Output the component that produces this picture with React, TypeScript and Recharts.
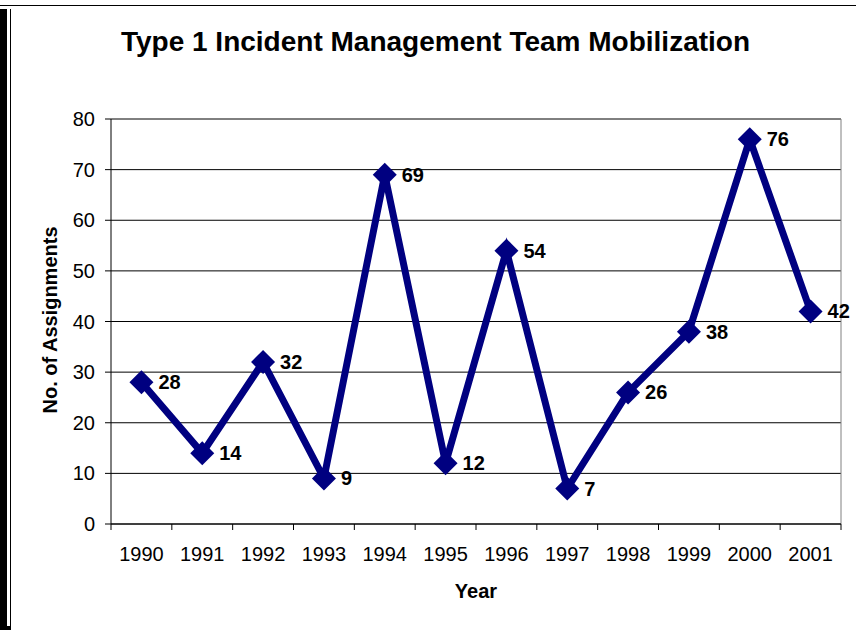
import React from 'react';
import {
  CartesianGrid,
  LabelList,
  Line,
  LineChart,
  XAxis,
  YAxis,
} from 'recharts';

// data
const years = ['1990', '1991', '1992', '1993', '1994', '1995', '1996', '1997', '1998', '1999', '2000', '2001'];
const assignments = [28, 14, 32, 9, 69, 12, 54, 7, 26, 38, 76, 42];
const yTicks = [0, 10, 20, 30, 40, 50, 60, 70, 80];

const chartData = years.map((year, i) => ({ year, value: assignments[i] }));

const FONT = '"Liberation Sans", Arial, sans-serif';
const W = 856;
const H = 632;
const xAxisHeight = 30;
const margin = { top: 119, right: 15, bottom: 108 - xAxisHeight, left: 0 };
const yAxisWidth = 111;
const halfBand = (W - margin.right - yAxisWidth) / years.length / 2;

const Diamond = (props: any) => {
  const { cx, cy } = props;
  if (cx == null || cy == null) return null;
  const r = 12;
  return (
    <polygon
      points={`${cx},${cy - r} ${cx + r},${cy} ${cx},${cy + r} ${cx - r},${cy}`}
      fill="#000080"
    />
  );
};

const YearTick = (props: any) => {
  const { x, y, payload, index } = props;
  const last = index === years.length - 1;
  return (
    <g>
      <line x1={x - halfBand} x2={x - halfBand} y1={y} y2={y + 6} stroke="#000" />
      {last && <line x1={x + halfBand} x2={x + halfBand} y1={y} y2={y + 6} stroke="#000" />}
      <text x={x} y={y + 37} textAnchor="middle" fontSize={20} fontFamily={FONT} fill="#000">
        {payload.value}
      </text>
    </g>
  );
};

const ValueLabel = (props: any) => {
  const { x, y, value } = props;
  return (
    <text
      x={x + 17}
      y={y}
      dominantBaseline="central"
      fontSize={20}
      fontWeight="bold"
      fontFamily={FONT}
      fill="#000"
    >
      {value}
    </text>
  );
};

export default function App() {
  return (
    <div style={{ position: 'absolute', left: 0, top: 0, width: W, height: H, background: '#fff', fontFamily: FONT }}>
      {/* frame */}
      <div style={{ position: 'absolute', left: 0, top: 5, width: W, height: 1, background: '#000' }} />
      <div style={{ position: 'absolute', left: 0, top: 9, width: 7, height: 621, background: '#000' }} />
      <div style={{ position: 'absolute', left: 10, top: 9, width: 1, height: 621, background: '#000' }} />
      <div style={{ position: 'absolute', left: 0, top: 626, width: 11, height: 4, background: '#000' }} />

      <div
        style={{
          position: 'absolute',
          left: 0,
          top: 28,
          width: 871,
          textAlign: 'center',
          fontSize: 28,
          lineHeight: '28px',
          fontWeight: 'bold',
          whiteSpace: 'nowrap',
        }}
      >
        Type 1 Incident Management Team Mobilization
      </div>

      <div
        style={{
          position: 'absolute',
          left: 49.5 - 150,
          top: 310,
          width: 300,
          height: 20,
          textAlign: 'center',
          fontSize: 20,
          lineHeight: '20px',
          fontWeight: 'bold',
          transform: 'rotate(-90deg)',
          whiteSpace: 'nowrap',
        }}
      >
        No. of Assignments
      </div>

      <div
        style={{
          position: 'absolute',
          left: 376,
          top: 581,
          width: 200,
          textAlign: 'center',
          fontSize: 20,
          lineHeight: '20px',
          fontWeight: 'bold',
        }}
      >
        Year
      </div>

      <div style={{ position: 'absolute', left: 0, top: 0 }}>
        <LineChart width={W} height={H} data={chartData} margin={margin}>
          <CartesianGrid vertical={false} stroke="#000" />
          {/* grey plot border on top and right */}
          <CartesianGrid
            stroke="#808080"
            horizontalCoordinatesGenerator={({ offset }: any) => [offset.top]}
            verticalCoordinatesGenerator={({ offset }: any) => [offset.left + offset.width]}
          />
          <XAxis
            dataKey="year"
            height={xAxisHeight}
            padding={{ left: halfBand, right: halfBand }}
            axisLine={{ stroke: '#000' }}
            tickLine={false}
            tickSize={0}
            tickMargin={0}
            tick={<YearTick />}
            interval={0}
          />
          <YAxis
            width={yAxisWidth}
            domain={[0, 80]}
            ticks={yTicks}
            interval={0}
            axisLine={{ stroke: '#000' }}
            tickLine={{ stroke: '#000' }}
            tickSize={6}
            tickMargin={10}
            tick={{ fill: '#000', fontSize: 20, fontFamily: FONT }}
          />
          <Line
            type="linear"
            dataKey="value"
            stroke="#000080"
            strokeWidth={7}
            dot={<Diamond />}
            activeDot={false}
            isAnimationActive={false}
          >
            <LabelList dataKey="value" content={<ValueLabel />} />
          </Line>
        </LineChart>
      </div>
    </div>
  );
}
